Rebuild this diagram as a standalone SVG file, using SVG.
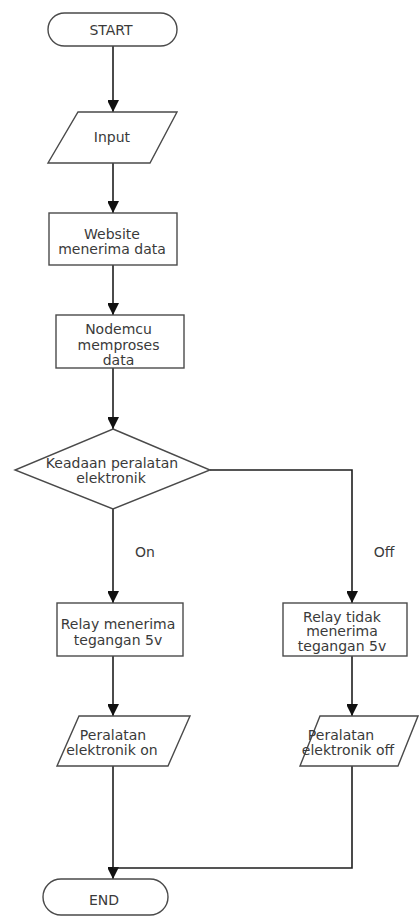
<svg xmlns="http://www.w3.org/2000/svg" width="419" height="917" viewBox="0 0 419 917">
<style>
  .shape { fill: #ffffff; stroke: #4a4a4a; stroke-width: 1.4; }
  .edge { fill: none; stroke: #1e1e1e; stroke-width: 1.6; }
  .label { font-family: "DejaVu Sans", "Liberation Sans", sans-serif; font-size: 14px; fill: #3a3a3a; text-anchor: middle; }
</style>
<defs>
  <marker id="arrow" markerUnits="userSpaceOnUse" markerWidth="12" markerHeight="11" refX="12" refY="6" orient="auto">
    <path d="M0,0 L12,6 L0,12 Z" fill="#111111"/>
  </marker>
</defs>
<rect width="419" height="917" fill="#ffffff"/>
<g id="connectors">
  <line class="edge" x1="113" y1="46" x2="113" y2="112" marker-end="url(#arrow)"/>
  <line class="edge" x1="113" y1="163" x2="113" y2="213" marker-end="url(#arrow)"/>
  <line class="edge" x1="113" y1="265" x2="113" y2="315" marker-end="url(#arrow)"/>
  <line class="edge" x1="113" y1="368" x2="113" y2="429" marker-end="url(#arrow)"/>
  <line class="edge" x1="113" y1="509" x2="113" y2="603" marker-end="url(#arrow)"/>
  <polyline class="edge" points="210,470 352,470 352,603" marker-end="url(#arrow)"/>
  <line class="edge" x1="113" y1="656" x2="113" y2="716" marker-end="url(#arrow)"/>
  <line class="edge" x1="352" y1="656" x2="352" y2="716" marker-end="url(#arrow)"/>
  <line class="edge" x1="113" y1="766" x2="113" y2="879" marker-end="url(#arrow)"/>
  <polyline class="edge" points="352,766 352,868 113,868"/>
  <text class="label" x="145" y="557">On</text>
  <text class="label" x="384" y="557">Off</text>
</g>
<g id="start">
  <rect class="shape" x="48" y="13" width="129" height="33" rx="16.5" ry="16.5"/>
  <text class="label" x="111" y="35">START</text>
</g>
<g id="input">
  <polygon class="shape" points="78,112 177,112 150,163 48,163"/>
  <text class="label" x="112" y="142">Input</text>
</g>
<g id="website">
  <rect class="shape" x="49" y="213" width="128" height="52"/>
  <text class="label" x="112" y="238.5">Website</text>
  <text class="label" x="112" y="253.5">menerima data</text>
</g>
<g id="nodemcu">
  <rect class="shape" x="56" y="315" width="128" height="53"/>
  <text class="label" x="118.5" y="333.5">Nodemcu</text>
  <text class="label" x="118.5" y="349.5">memproses</text>
  <text class="label" x="118.5" y="365">data</text>
</g>
<g id="decision">
  <polygon class="shape" points="113,429 210,470 113,509 15,470"/>
  <text class="label" x="112" y="468">Keadaan peralatan</text>
  <text class="label" x="111" y="483">elektronik</text>
</g>
<g id="relay-on">
  <rect class="shape" x="57" y="603" width="126" height="53"/>
  <text class="label" x="118" y="628.5">Relay menerima</text>
  <text class="label" x="118" y="644.5">tegangan 5v</text>
</g>
<g id="relay-off">
  <rect class="shape" x="283" y="603" width="124" height="53"/>
  <text class="label" x="342" y="621.5">Relay tidak</text>
  <text class="label" x="342" y="636">menerima</text>
  <text class="label" x="342" y="650.5">tegangan 5v</text>
</g>
<g id="output-on">
  <polygon class="shape" points="79,716 190,716 168,766 57,766"/>
  <text class="label" x="113" y="740">Peralatan</text>
  <text class="label" x="112" y="755">elektronik on</text>
</g>
<g id="output-off">
  <polygon class="shape" points="320,716 418,716 398,766 300,766"/>
  <text class="label" x="341" y="740">Peralatan</text>
  <text class="label" x="348" y="755">elektronik off</text>
</g>
<g id="end">
  <rect class="shape" x="43" y="879" width="125" height="36" rx="18" ry="18"/>
  <text class="label" x="104" y="905">END</text>
</g>
</svg>
